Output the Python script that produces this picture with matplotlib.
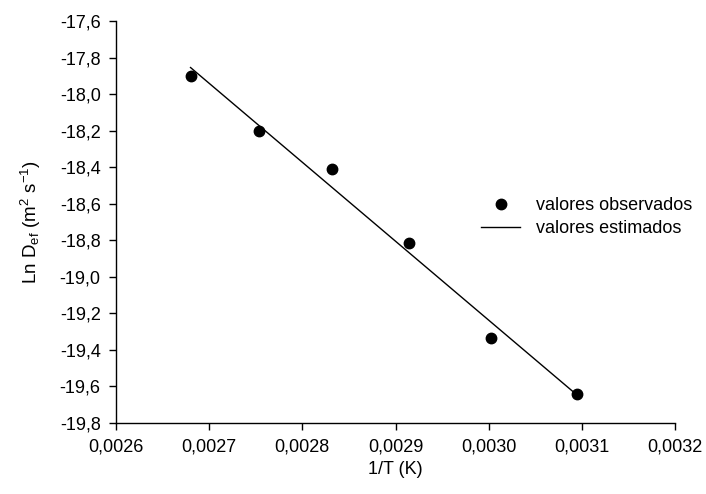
import numpy as np
import matplotlib
matplotlib.use("Agg")
import matplotlib.pyplot as plt
from matplotlib.ticker import FuncFormatter, MultipleLocator

plt.rcParams['font.family'] = ['Liberation Sans', 'DejaVu Sans']
plt.rcParams['mathtext.fontset'] = 'custom'
plt.rcParams['mathtext.rm'] = 'Liberation Sans'
plt.rcParams['mathtext.it'] = 'Liberation Sans'

# data
inv_T = [0.00268, 0.002754, 0.002832, 0.002914, 0.003002, 0.003095]
ln_def = [-17.90, -18.20, -18.41, -18.815, -19.334, -19.64]

# linear fit -> estimated values
x_arr = np.array(inv_T)
y_arr = np.array(ln_def)
slope, intercept = np.polyfit(x_arr, y_arr, 1)
x_line = np.array([x_arr.min(), x_arr.max()])
y_line = slope * x_line + intercept

fig = plt.figure(figsize=(7.06, 4.94), dpi=100)
ax = fig.add_axes([0.1643, 0.1437, 0.7918, 0.8138])

ax.plot(x_arr, y_arr, 'o', color='black', markersize=7.5, label='valores observados')
ax.plot(x_line, y_line, '-', color='black', linewidth=1.0, label='valores estimados')

ax.set_xlim(0.0026, 0.0032)
ax.set_ylim(-19.8, -17.6)
ax.xaxis.set_major_locator(MultipleLocator(0.0001))
ax.yaxis.set_major_locator(MultipleLocator(0.2))
ax.xaxis.set_major_formatter(FuncFormatter(lambda v, p: f"{v:.4f}".replace('.', ',')))
ax.yaxis.set_major_formatter(FuncFormatter(lambda v, p: f"{v:.1f}".replace('.', ',')))

for s in ['top', 'right']:
    ax.spines[s].set_visible(False)
for s in ['left', 'bottom']:
    ax.spines[s].set_linewidth(1.0)
ax.tick_params(direction='out', length=5, width=1.0, labelsize=13, pad=6)

ax.set_xlabel('1/T (K)', fontsize=13, labelpad=4)
ax.set_ylabel(r'Ln D$_{ef}$ (m$^2$ s$^{-1}$)', fontsize=13.5, labelpad=12)

ax.legend(loc='center left', bbox_to_anchor=(0.637, 0.512), frameon=False,
          fontsize=13, handlelength=2.15, handletextpad=0.9, labelspacing=0.3,
          borderpad=0)

fig.savefig('out.png', dpi=100)
